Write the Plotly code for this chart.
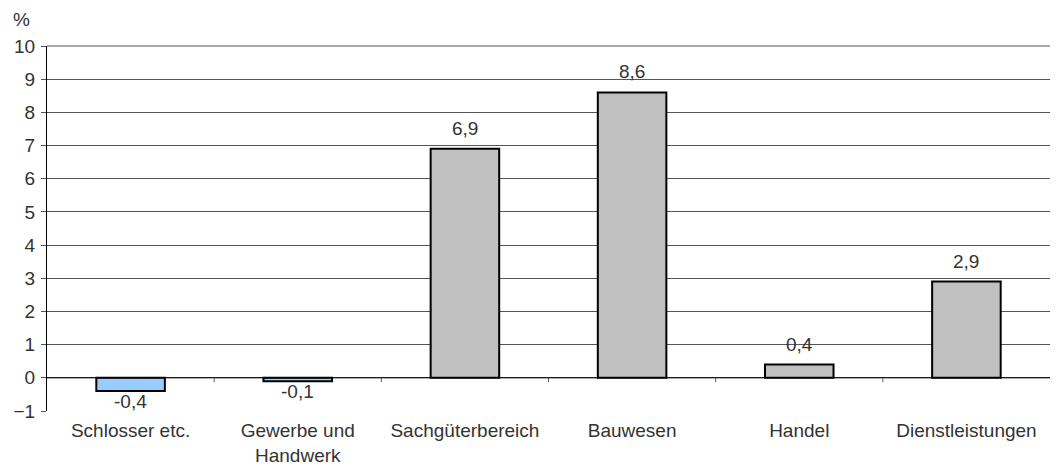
import plotly.graph_objects as go

categories = ["Schlosser etc.", "Gewerbe und<br>Handwerk", "Sachgüterbereich", "Bauwesen", "Handel", "Dienstleistungen"]
values = [-0.4, -0.1, 6.9, 8.6, 0.4, 2.9]
colors = ["#99ccff", "#99ccff", "#c0c0c0", "#c0c0c0", "#c0c0c0", "#c0c0c0"]
labels = [f"{v:.1f}".replace(".", ",") for v in values]

fig = go.Figure(go.Bar(
    x=list(range(len(categories))), y=values, marker=dict(color=colors, line=dict(color="black", width=2)),
    width=0.41, cliponaxis=False))

shapes = [dict(type="line", xref="x", yref="y", x0=-0.5, x1=5.5, y0=0, y1=0, line=dict(color="black", width=1))]
for b in [0.5, 1.5, 2.5, 3.5, 4.5]:
    shapes.append(dict(type="line", xref="x", yref="y", x0=b, x1=b, y0=0, y1=-0.13, line=dict(color="#555", width=1)))

annotations = [dict(text="%", xref="paper", yref="paper", x=-0.025, y=1.0, yshift=14, xanchor="center",
                    yanchor="bottom", showarrow=False, font=dict(size=19, color="#333"))]
for i, (v, t) in enumerate(zip(values, labels)):
    annotations.append(dict(text=t, x=i, y=v, xref="x", yref="y", showarrow=False,
                            yanchor="bottom" if v >= 0 else "top", yshift=8 if v >= 0 else 2,
                            font=dict(size=19, color="#333")))

fig.update_layout(
    width=1060, height=468, margin=dict(l=39, r=18, t=38, b=65, autoexpand=False),
    plot_bgcolor="white", paper_bgcolor="white", showlegend=False,
    font=dict(family="Liberation Sans, Arial", size=19, color="#333333"),
    shapes=shapes, annotations=annotations,
    xaxis=dict(tickmode="array", tickvals=list(range(6)), ticktext=categories, range=[-0.5, 5.5],
               showgrid=False, zeroline=False, showline=False, ticks="", automargin=False,
               ticklabelstandoff=6),
    yaxis=dict(range=[-1, 10], dtick=1, showgrid=True, gridcolor="#555", gridwidth=1, zeroline=False,
               showline=True, linecolor="black", ticks="outside", ticklen=5, tickcolor="#555",
               automargin=False, ticklabelstandoff=2),
)
fig.add_shape(type="line", xref="paper", yref="paper", x0=0, x1=1, y0=1, y1=1, line=dict(color="#555", width=1))
fig.write_html("out.html")
